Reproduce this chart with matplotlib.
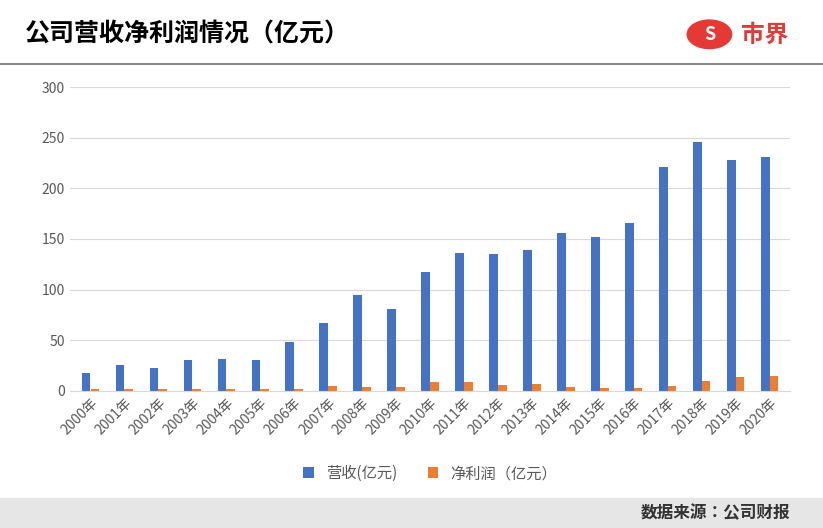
import matplotlib.pyplot as plt
import numpy as np
from matplotlib import rcParams
from matplotlib.patches import Rectangle, Circle

rcParams['font.family'] = ['Noto Sans CJK SC', 'Noto Sans CJK JP', 'DejaVu Sans']

years = ['%d年' % y for y in range(2000, 2021)]
revenue = [18, 25, 22, 30, 31, 30, 48, 67, 95, 81, 117, 136, 135, 139, 156, 152, 166, 221, 246, 228, 231]
profit = [2, 2, 2, 2, 2, 2, 2, 5, 4, 4, 9, 9, 6, 7, 4, 3, 3, 5, 10, 14, 15]

fig = plt.figure(figsize=(8.23, 5.28), dpi=100)
fig.patch.set_facecolor('white')

# 标题栏
fig.text(0.03, 0.935, '公司营收净利润情况（亿元）', fontsize=18, fontweight='bold', va='center')
fig.add_artist(plt.Line2D([0, 1], [0.878, 0.878], color='#888888', lw=1.5))
fig.add_artist(Circle((0.862, 0.935), 0.027, transform=fig.transFigure,
                      color='#e53935', zorder=5))
fig.text(0.862, 0.935, 'S', color='white', fontsize=13, fontweight='bold',
         ha='center', va='center', zorder=6)
fig.text(0.90, 0.935, '市界', color='#e53935', fontsize=17, fontweight='bold', va='center')

# 底部来源栏
fig.add_artist(Rectangle((0, 0), 1, 0.056, transform=fig.transFigure,
                         color='#e6e6e6', zorder=0))
fig.text(0.96, 0.028, '数据来源：公司财报', fontsize=12, fontweight='bold',
         color='#333333', ha='right', va='center')

ax = fig.add_axes([0.085, 0.26, 0.875, 0.575])
x = np.arange(len(years))
w = 0.25
ax.bar(x - 0.13, revenue, w, color='#4472c4', label='营收(亿元)')
ax.bar(x + 0.13, profit, w, color='#ed7d31', label='净利润（亿元）')
ax.set_ylim(0, 300)
ax.set_yticks(range(0, 301, 50))
ax.set_xlim(-0.6, len(years) - 0.4)
ax.set_xticks(x)
ax.set_xticklabels(years, rotation=45, ha='right', rotation_mode='anchor')
ax.tick_params(length=0, labelsize=10, colors='#595959')
ax.grid(axis='y', color='#d9d9d9', lw=0.8)
ax.set_axisbelow(True)
for s in ['top', 'right', 'left']:
    ax.spines[s].set_visible(False)
ax.spines['bottom'].set_color('#d9d9d9')
ax.legend(loc='upper center', bbox_to_anchor=(0.5, -0.2), ncol=2, frameon=False,
          fontsize=11, handlelength=0.7, handleheight=0.7, labelcolor='#595959')

plt.savefig('out.png', dpi=100)
